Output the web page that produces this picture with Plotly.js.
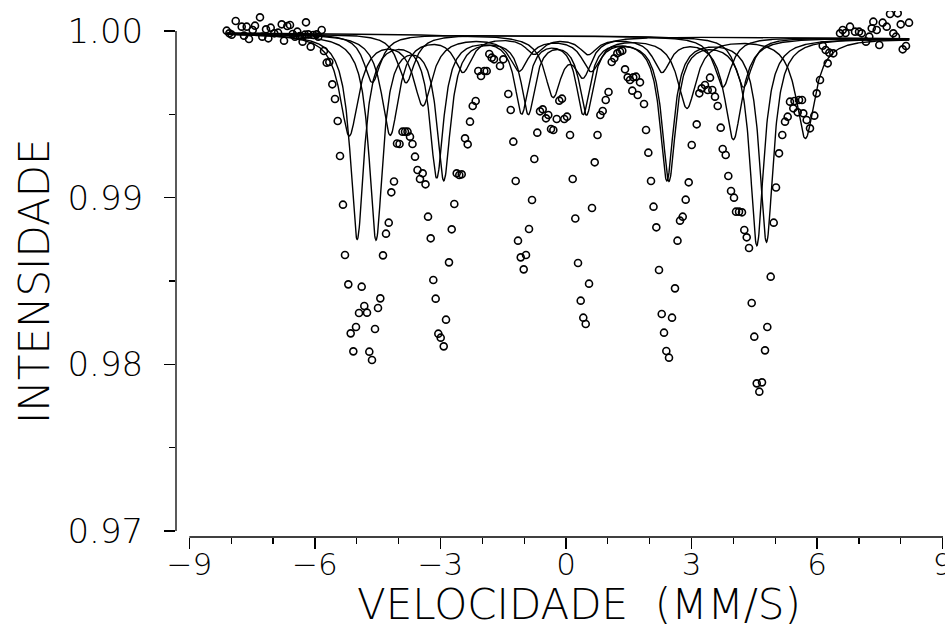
<!DOCTYPE html>
<html>
<head>
<meta charset="utf-8">
<script src="https://cdn.plot.ly/plotly-3.0.1.min.js"></script>
<style>html,body{margin:0;padding:0;background:#fff;}</style>
</head>
<body>
<div id="chart" style="width:945px;height:634px;"></div>
<script>
// ---- measured spectrum (velocity mm/s, relative intensity) ----
const velocity = [
-8.108,-8.045,-7.988,-7.892,-7.749,-7.694,-7.630,-7.575,-7.486,-7.431,-7.312,-7.257,-7.168,-7.113,-7.056,-6.970,-6.880,-6.793,-6.738,-6.659,-6.595,-6.530,-6.476,-6.420,-6.360,-6.294,-6.237,-6.213,-6.158,-6.100,-6.038,-5.957,-5.919,-5.838,-5.783,-5.718,-5.656,-5.584,-5.520,-5.455,-5.400,-5.329,
-5.281,-5.202,-5.145,-5.082,-5.018,-4.946,-4.882,-4.820,-4.755,-4.700,-4.636,-4.564,-4.492,-4.437,-4.373,-4.301,-4.236,-4.174,-4.110,
-4.038,-3.978,-3.907,-3.847,-3.787,-3.728,-3.668,-3.608,-3.548,-3.489,-3.424,-3.357,-3.297,-3.233,-3.171,-3.114,-3.051,-2.994,-2.922,-2.867,-2.796,-2.731,-2.669,-2.612,-2.550,-2.492,-2.413,-2.349,-2.294,-2.229,-2.158,-2.096,-2.031,-1.952,-1.895,-1.833,-1.775,-1.720,-1.577,-1.498,
-1.379,-1.321,-1.259,-1.202,-1.147,-1.082,-1.011,-0.956,-0.884,-0.812,-0.757,-0.686,-0.621,-0.557,-0.478,-0.423,-0.358,-0.303,-0.222,-0.160,-0.096,-0.041,0.024,0.096,0.160,0.222,0.287,0.351,0.413,0.471,0.550,0.621,0.686,0.753,0.820,0.877,0.949,1.016,1.092,1.154,1.226,1.290,1.345,1.410,1.474,1.529,1.584,1.608,1.673,1.714,1.768,1.864,1.912,1.967,2.031,2.091,2.158,2.222,2.287,2.342,2.397,2.461,2.533,2.604,2.664,2.724,2.789,2.860,2.932,3.004,3.123,3.185,3.243,3.321,3.386,3.441,3.496,3.560,3.625,3.697,3.744,3.816,3.878,3.943,4.014,4.062,4.134,4.205,4.260,4.318,4.373,4.437,4.499,4.557,4.619,4.683,4.755,4.810,4.891,4.963,5.018,5.090,5.168,5.233,5.297,5.352,5.431,5.460,5.536,5.568,5.639,5.670,5.751,5.830,5.933,5.990,6.069,6.134,6.205,6.253,6.292,6.387,6.547,6.612,6.679,6.786,6.906,7.001,7.066,7.168,7.247,7.305,7.343,7.424,7.486,7.567,7.663,7.742,7.821,7.885,7.926,7.998,8.045,8.124,8.196
];
const intensity = [
1.00002,0.99986,0.99978,1.00060,1.00026,0.99972,1.00026,0.99952,1.00006,1.00032,1.00082,0.99966,1.00010,0.99956,1.00020,0.99986,0.99990,1.00040,0.99942,1.00030,1.00036,0.99982,0.99966,0.99996,0.99970,0.99936,0.99978,1.00052,0.99980,0.99906,0.99976,0.99980,0.99966,1.00006,0.99880,0.99810,0.99814,0.99680,0.99592,0.99460,0.99250,0.98958,
0.98656,0.98480,0.98186,0.98078,0.98224,0.98308,0.98466,0.98350,0.98310,0.98076,0.98026,0.98212,0.98338,0.98396,0.98654,0.98784,0.98850,0.99032,0.99097,
0.99325,0.99322,0.99396,0.99396,0.99396,0.99366,0.99322,0.99246,0.99166,0.99112,0.99146,0.99080,0.98886,0.98756,0.98506,0.98394,0.98184,0.98160,0.98108,0.98268,0.98612,0.98810,0.98962,0.99146,0.99136,0.99140,0.99356,0.99320,0.99456,0.99550,0.99580,0.99760,0.99730,0.99760,0.99760,0.99862,0.99840,0.99830,0.99790,0.99830,
0.99622,0.99526,0.99336,0.99100,0.98742,0.98642,0.98570,0.98656,0.98812,0.98986,0.99232,0.99390,0.99518,0.99530,0.99476,0.99496,0.99412,0.99406,0.99472,0.99582,0.99594,0.99472,0.99486,0.99376,0.99112,0.98875,0.98608,0.98382,0.98280,0.98242,0.98484,0.98938,0.99212,0.99376,0.99496,0.99520,0.99586,0.99634,0.99814,0.99836,0.99866,0.99876,0.99882,0.99770,0.99722,0.99706,0.99642,0.99722,0.99726,0.99616,0.99692,0.99562,0.99406,0.99270,0.99100,0.98946,0.98822,0.98566,0.98302,0.98190,0.98080,0.98040,0.98280,0.98456,0.98742,0.98862,0.98886,0.98988,0.99092,0.99316,0.99440,0.99626,0.99656,0.99676,0.99646,0.99720,0.99646,0.99606,0.99550,0.99420,0.99292,0.99256,0.99130,0.99040,0.99000,0.98916,0.98916,0.98912,0.98806,0.98762,0.98698,0.98368,0.98166,0.97886,0.97836,0.97892,0.98084,0.98224,0.98526,0.98850,0.99061,0.99266,0.99376,0.99456,0.99486,0.99576,0.99536,0.99580,0.99512,0.99586,0.99586,0.99506,0.99466,0.99416,0.99492,0.99626,0.99706,0.99912,0.99886,0.99806,0.99870,0.99866,0.99986,1.00006,0.99988,1.00026,0.99996,0.99996,0.99986,0.99936,0.99966,1.00016,1.00056,1.00006,0.99916,1.00050,1.00026,1.00102,0.99986,0.99966,1.00106,1.00040,0.99890,0.99910,1.00050
];

// ---- fitted subspectra (line positions mm/s, line depths, half widths mm/s) ----
const baselineEnds = [0.99988, 0.99955];          // baseline level at the two ends
const fitRange = [-8.11, 8.20];                    // velocity span of fitted curves
const compA_pos = [-4.99, -3.09, -1.06, 0.41, 2.41, 4.79];
const compA_dep = [0.0122, 0.0084, 0.0045, 0.0045, 0.0085, 0.0122];
const compB_pos = [-4.54, -2.92, -0.90, 0.49, 2.46, 4.56];
const compB_dep = [0.0122, 0.0085, 0.0045, 0.0045, 0.0085, 0.0124];
const compC_pos = [-5.18, -3.42, -1.12, 0.60, 2.89, 5.72];
const compC_dep = [0.0060, 0.0041, 0.0020, 0.0020, 0.0042, 0.0060];
const compD_pos = [-4.20, -2.46, -0.76, 0.53, 2.29, 4.00];
const compD_dep = [0.0060, 0.0021, 0.0010, 0.0010, 0.0020, 0.0061];
const compE_pos = [-4.63, 4.24];
const compE_dep = [0.0029, 0.0030];
const compF_pos = [-3.82, 3.75];
const compF_dep = [0.0029, 0.0030];
const compG_pos = [-0.31, 0.41];
const compG_dep = [0.0035, 0.0022];
const compWidths = [0.20, 0.20, 0.27, 0.25, 0.24, 0.24, 0.24];

// ---- axis ticks and titles ----
const xTickVals = [-9, -6, -3, 0, 3, 6, 9];
const xTickText = ['\u22129', '\u22126', '\u22123', '0', '3', '6', '9'];
const yTickVals = [0.97, 0.98, 0.99, 1.00];
const yTickText = ['0.97', '0.98', '0.99', '1.00'];
const yAxisSpan = [0.97, 1.00];
const xTitle = 'VELOCIDADE\u00A0\u00A0(MM/S)';
const yTitle = 'INTENSIDADE';

const comps = [
  [compA_pos, compA_dep], [compB_pos, compB_dep], [compC_pos, compC_dep],
  [compD_pos, compD_dep], [compE_pos, compE_dep], [compF_pos, compF_dep],
  [compG_pos, compG_dep]
];

function baseline(v) {
  const t = (v - fitRange[0]) / (fitRange[1] - fitRange[0]);
  return baselineEnds[0] + t * (baselineEnds[1] - baselineEnds[0]);
}

const traces = [];
comps.forEach(function (c, k) {
  const xs = [], ys = [];
  const w = compWidths[k];
  for (let v = fitRange[0]; v <= fitRange[1] + 1e-9; v += 0.01) {
    let y = baseline(v);
    for (let i = 0; i < c[0].length; i++) {
      const u = (v - c[0][i]) / w;
      y -= c[1][i] / (1 + u * u);
    }
    xs.push(v); ys.push(y);
  }
  traces.push({x: xs, y: ys, type: 'scatter', mode: 'lines',
    line: {color: '#000', width: 1.4}, hoverinfo: 'skip'});
});

traces.push({
  x: velocity, y: intensity, type: 'scatter', mode: 'markers',
  marker: {symbol: 'circle-open', size: 7, color: '#000', line: {width: 1.6, color: '#000'}}
});

const fontFam = 'DejaVu Sans, Roboto, sans-serif';
const layout = {
  width: 945, height: 634,
  margin: {l: 176, r: 2, t: 11, b: 97},
  paper_bgcolor: '#fff', plot_bgcolor: '#fff',
  showlegend: false,
  font: {family: fontFam, color: '#000', weight: 300},
  xaxis: {
    range: [-9.319, 9.008], anchor: 'free', position: 0,
    showline: false, zeroline: false, showgrid: false,
    tickmode: 'array', tickvals: xTickVals, ticktext: xTickText,
    ticks: 'outside', ticklen: 11, tickwidth: 1.3, tickcolor: '#000',
    minor: {dtick: 1, tick0: 0, ticks: 'outside', ticklen: 6, tickwidth: 1.2, tickcolor: '#000', showgrid: false},
    tickfont: {size: 31, family: fontFam, weight: 300},
    ticklabelstandoff: -11,
    ticklabeloverflow: 'allow'
  },
  yaxis: {
    range: [0.97, 1.0012], domain: [0.0114, 1],
    showline: false, zeroline: false, showgrid: false,
    tickmode: 'array', tickvals: yTickVals, ticktext: yTickText,
    ticks: 'outside', ticklen: 11, tickwidth: 1.3, tickcolor: '#000',
    minor: {tickmode: 'array', tickvals: [0.975, 0.985, 0.995], ticks: 'outside', ticklen: 6, tickwidth: 1.2, tickcolor: '#000', showgrid: false},
    tickfont: {size: 34, family: fontFam, weight: 300},
    ticklabelstandoff: 14
  },
  annotations: [
    {text: xTitle, xref: 'paper', yref: 'paper', x: 0.5254, y: -0.1274,
     xanchor: 'center', yanchor: 'middle', showarrow: false,
     font: {size: 42, family: fontFam, weight: 300}},
    {text: yTitle, xref: 'paper', yref: 'paper', x: -0.1838, y: 0.4867, textangle: -90,
     xanchor: 'center', yanchor: 'middle', showarrow: false,
     font: {size: 42, family: fontFam, weight: 300}}
  ],
  shapes: [
    {type: 'line', xref: 'x', yref: 'paper', x0: xTickVals[0], x1: 9.008, y0: 0, y1: 0,
     line: {color: '#000', width: 1.3}},
    {type: 'line', xref: 'paper', yref: 'y', x0: 0, x1: 0, y0: yAxisSpan[0], y1: yAxisSpan[1],
     line: {color: '#000', width: 1.3}}
  ]
};

Plotly.newPlot('chart', traces, layout, {displayModeBar: false, staticPlot: true});
</script>
</body>
</html>
